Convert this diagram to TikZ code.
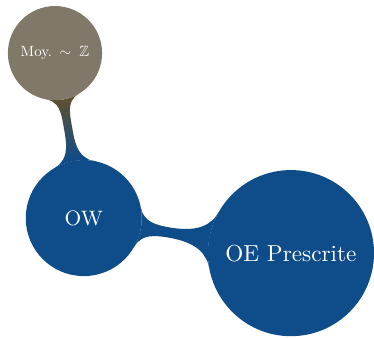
\documentclass[tikz,border=0pt]{standalone}
\usepackage{amssymb}
\usepackage{graphicx}
\usetikzlibrary{mindmap,backgrounds}
\definecolor{mmblue}{RGB}{15,76,138}
\definecolor{mmgrey}{RGB}{128,120,104}
\definecolor{mmolive}{RGB}{92,80,50}
\begin{document}
\begin{tikzpicture}[mindmap,
  every node/.style={concept, draw=none, text=white, inner sep=0pt, align=center},
  bigc/.style={fill=mmblue, minimum size=71.6pt, text width=65pt, font=\normalsize},
  midc/.style={fill=mmblue, minimum size=50pt, text width=45pt, font=\small},
  smallc/.style={fill=mmgrey, minimum size=40.6pt, text width=38pt, font=\normalsize}]
\useasboundingbox (0,0) rectangle (161.2pt,145.3pt);
\node[midc] (ow) at (36.1pt,51.3pt) {OW};
\node[bigc] (oe) at (125.4pt,36.2pt) {OE Prescrite};
\node[smallc] (moy) at (23.7pt,122.4pt) {\scalebox{0.64}{Moy. $\sim\;\mathbb{Z}$}};
\begin{pgfonlayer}{background}
\path (ow) to[circle connection bar switch color=from (mmblue) to (mmblue), line width=4.8pt] (oe);
\path (ow) to[circle connection bar switch color=from (mmblue) to (mmolive), line width=4.8pt] (moy);
\end{pgfonlayer}
\end{tikzpicture}
\end{document}
